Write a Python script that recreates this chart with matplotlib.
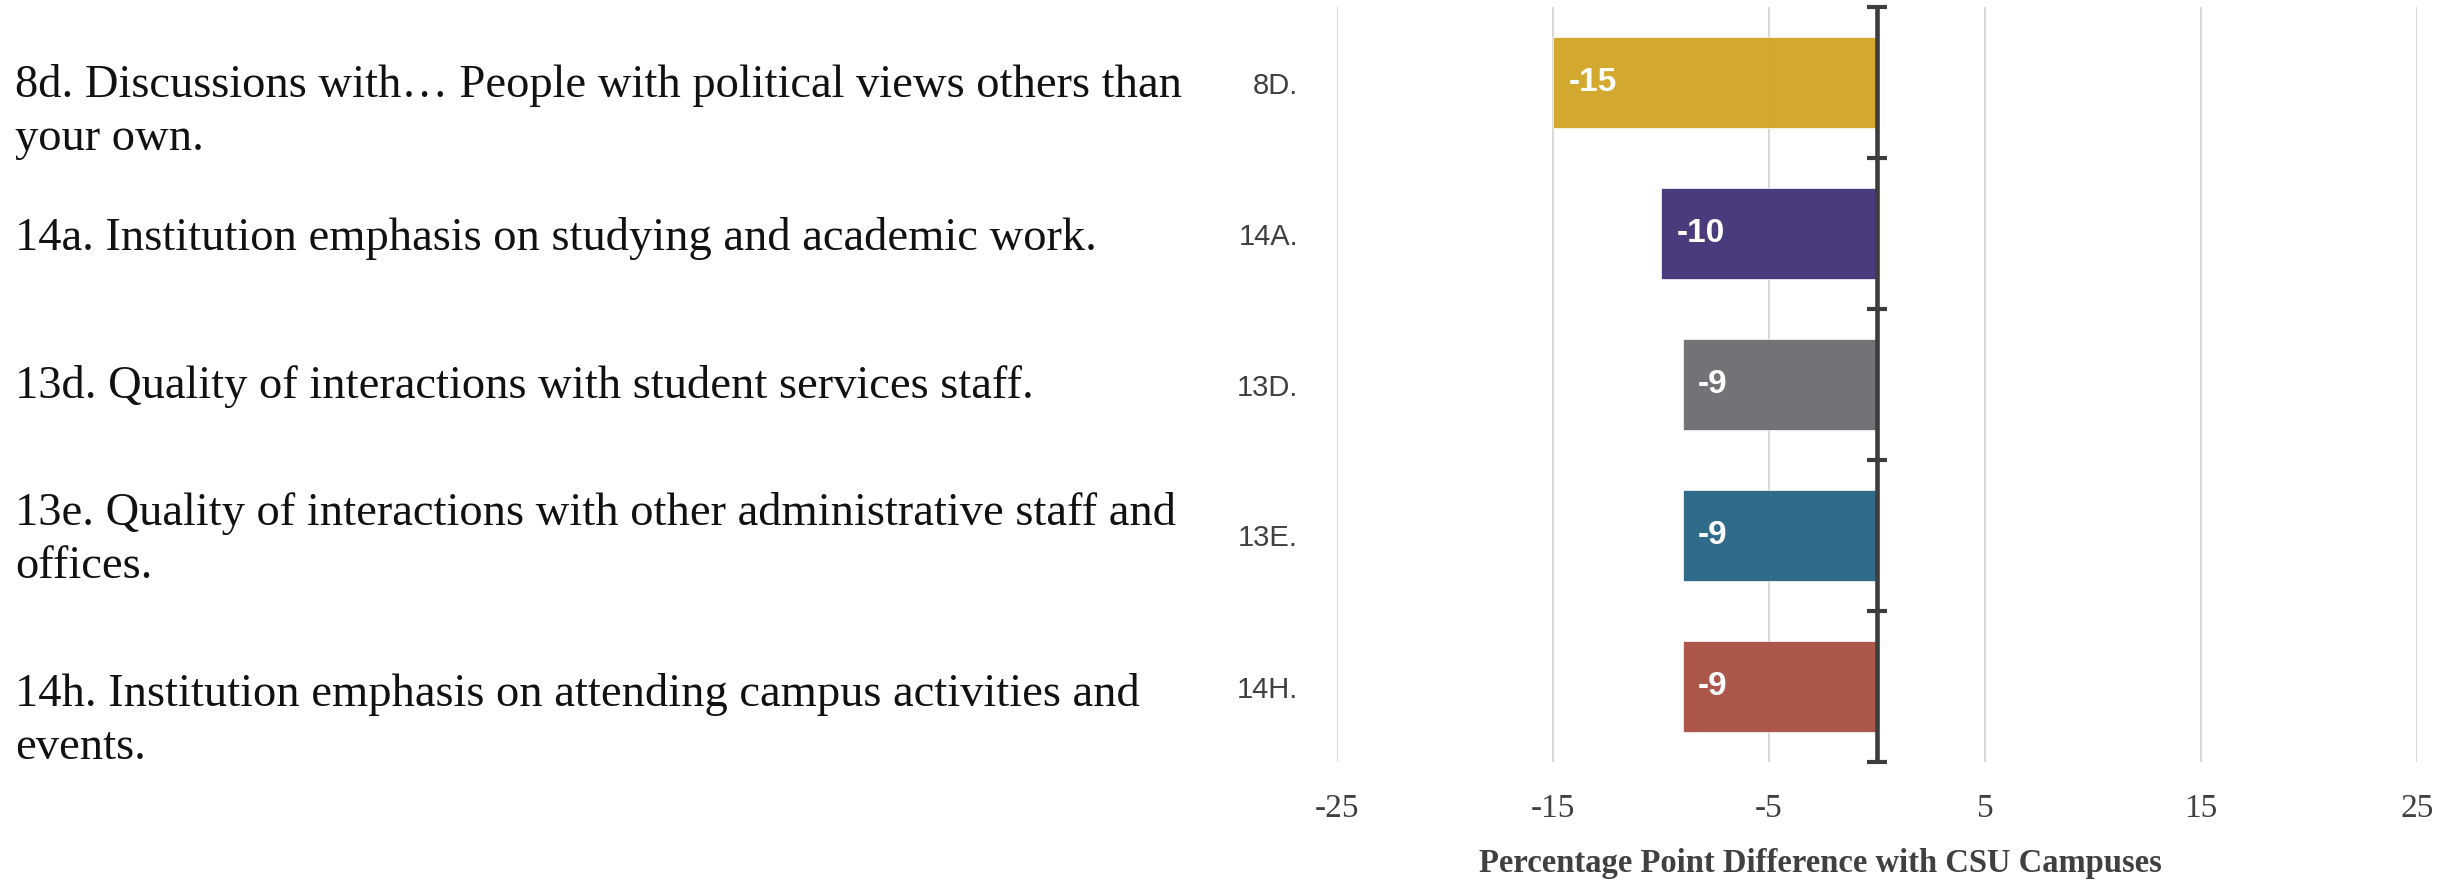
import matplotlib
matplotlib.use("Agg")
import matplotlib.pyplot as plt
import numpy as np

# ---- data ----
codes = ["8D.", "14A.", "13D.", "13E.", "14H."]
values = [-15, -10, -9, -9, -9]
colors = ["#D2A527", "#443578", "#6D6E72", "#296786", "#A85245"]
descriptions = [
    "8d. Discussions with\u2026 People with political views others than\nyour own.",
    "14a. Institution emphasis on studying and academic work.",
    "13d. Quality of interactions with student services staff.",
    "13e. Quality of interactions with other administrative staff and\noffices.",
    "14h. Institution emphasis on attending campus activities and\nevents.",
]
xticks = [-25, -15, -5, 5, 15, 25]
xlabel = "Percentage Point Difference with CSU Campuses"

# ---- layout ----
W, H = 2453, 881
fig = plt.figure(figsize=(W / 100, H / 100), dpi=100)
ax = fig.add_axes([1337 / W, 1 - 762 / H, (2417 - 1337) / W, (762 - 7) / H])

n = len(codes)
ypos = np.arange(n)
ax.set_ylim(n - 0.5, -0.5)
ax.set_xlim(-25, 25)

ax.barh(ypos, values, height=0.6, color=colors, alpha=0.97, zorder=2,
        edgecolor="white", linewidth=0.5)

for y, v in zip(ypos, values):
    ax.annotate(f"{v}", xy=(v, y), xytext=(11, 0), textcoords="offset points",
                ha="left", va="center", color="white", fontsize=24,
                fontweight="bold", family="Liberation Sans", zorder=4)

ax.set_xticks(xticks)
ax.set_xticklabels([str(t) for t in xticks], family="Liberation Serif",
                   fontsize=24, color="#404040")
ax.tick_params(axis="x", length=0, pad=23)
ax.grid(axis="x", color="#d4d4d4", linewidth=1.3, zorder=0)
ax.set_axisbelow(True)

ax.set_yticks(ypos)
ax.set_yticklabels(codes, family="Liberation Sans", fontsize=21, color="#404040")
ax.tick_params(axis="y", length=0, pad=28)

for s in ax.spines.values():
    s.set_visible(False)

ax.set_xlabel(xlabel, family="Liberation Serif", fontsize=23.5, fontweight="bold",
              color="#404040")
ax.xaxis.set_label_coords(0.448, -0.135)
ax.xaxis.label.set_va("center")

# zero axis with category boundary caps
ax.axvline(0, color="#3d3d3d", linewidth=3.3, zorder=3)
bounds = np.arange(n + 1) - 0.5
ax.plot(np.zeros_like(bounds), bounds, linestyle="none", marker="_",
        markersize=14, markeredgewidth=3.0, color="#3d3d3d", zorder=3,
        clip_on=False)

# left descriptive texts
desc_centers = [112, 238, 386, 540, 721]
for txt, yc in zip(descriptions, desc_centers):
    fig.text(15 / W, 1 - yc / H, txt, ha="left", va="center",
             family="Liberation Serif", fontsize=33.5, color="#111111",
             linespacing=1.3)

fig.savefig("out.png", dpi=100)
